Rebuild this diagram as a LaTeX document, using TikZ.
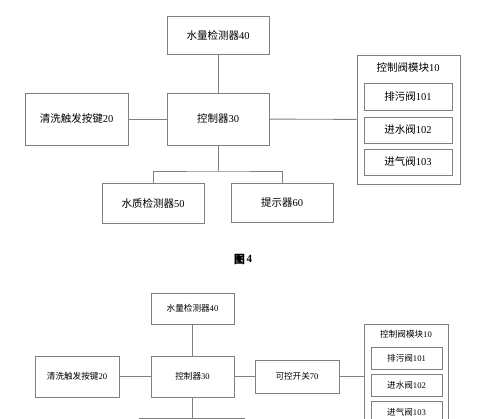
\documentclass[tikz,border=0pt]{standalone}
\usepackage{fontspec}
\setmainfont{Liberation Serif}
\newfontfamily\cjk{Noto Sans CJK SC}
\newfontfamily\cjkbold{Noto Sans CJK SC}[FakeBold=0.5]
\newcommand{\zh}[1]{{\cjk #1}}

\tikzset{
  box/.style={draw=black!50, line width=0.9pt, inner sep=0pt, font=\fontsize{10.5}{12}\selectfont},
  sbox/.style={draw=black!50, line width=0.9pt, inner sep=0pt, font=\fontsize{8.6}{10}\selectfont},
  wire/.style={draw=black!50, line width=0.9pt}
}

\begin{document}
\begin{tikzpicture}[x=1pt, y=-1pt]
\useasboundingbox[fill=white] (0,0) rectangle (500,419);
\clip (0,0) rectangle (500,419);

% figure 4
\node[box, minimum width=102, minimum height=38] (meter) at (218,35) {\zh{水量检测器}40};
\node[box, minimum width=102, minimum height=52] (ctrl) at (218,119) {\zh{控制器}30};
\node[box, minimum width=103, minimum height=52] (key) at (76.5,119) {\zh{清洗触发按键}20};
\node[box, minimum width=102, minimum height=40] (quality) at (153,203) {\zh{水质检测器}50};
\node[box, minimum width=102, minimum height=39] (prompt) at (282,202.5) {\zh{提示器}60};
\node[box, minimum width=103, minimum height=129] (valves) at (408.5,119.5) {};
\node[font=\fontsize{10.5}{12}\selectfont] (valvestitle) at (408,68) {\zh{控制阀模块}10};
\node[box, minimum width=88, minimum height=27] (drain) at (408,96.5) {\zh{排污阀}101};
\node[box, minimum width=88, minimum height=26] (inlet) at (408,130) {\zh{进水阀}102};
\node[box, minimum width=88, minimum height=26] (air) at (408,162) {\zh{进气阀}103};
\coordinate (bus) at (218,171);

\draw[wire] (meter) -- (ctrl);
\draw[wire] (key) -- (ctrl);
\draw[wire] (ctrl) -- (valves);
\draw[wire] (ctrl) -- (bus);
\draw[wire] (quality.north) |- (bus) -| (prompt.north);

\node[font=\fontsize{11}{12}\selectfont\bfseries] (caption) at (243,259) {{\cjkbold 图}\,4};

% figure 5
\node[sbox, minimum width=83, minimum height=31] (meterb) at (192.5,308.5) {\zh{水量检测器}40};
\node[sbox, minimum width=83, minimum height=41] (ctrlb) at (192.5,376.5) {\zh{控制器}30};
\node[sbox, minimum width=84, minimum height=41] (keyb) at (77,376.5) {\zh{清洗触发按键}20};
\node[sbox, minimum width=84, minimum height=33] (switch) at (297,376.5) {\zh{可控开关}70};
\node[sbox, minimum width=84, minimum height=130, anchor=north west] (valvesb) at (364,324) {};
\node[font=\fontsize{8.6}{10}\selectfont] (valvesbtitle) at (406,334) {\zh{控制阀模块}10};
\node[sbox, minimum width=71, minimum height=22] (drainb) at (406.5,358) {\zh{排污阀}101};
\node[sbox, minimum width=71, minimum height=22] (inletb) at (406.5,385) {\zh{进水阀}102};
\node[sbox, minimum width=71, minimum height=22] (airb) at (406.5,412) {\zh{进气阀}103};
\node[sbox, minimum width=105, minimum height=40, anchor=north] (lowerb) at (191.5,418) {};

\draw[wire] (meterb) -- (ctrlb);
\draw[wire] (keyb) -- (ctrlb);
\draw[wire] (ctrlb) -- (switch);
\draw[wire] (switch) -- (valvesb.west |- switch);
\draw[wire] (ctrlb.south) -- (ctrlb.south |- lowerb.north);
\end{tikzpicture}
\end{document}
